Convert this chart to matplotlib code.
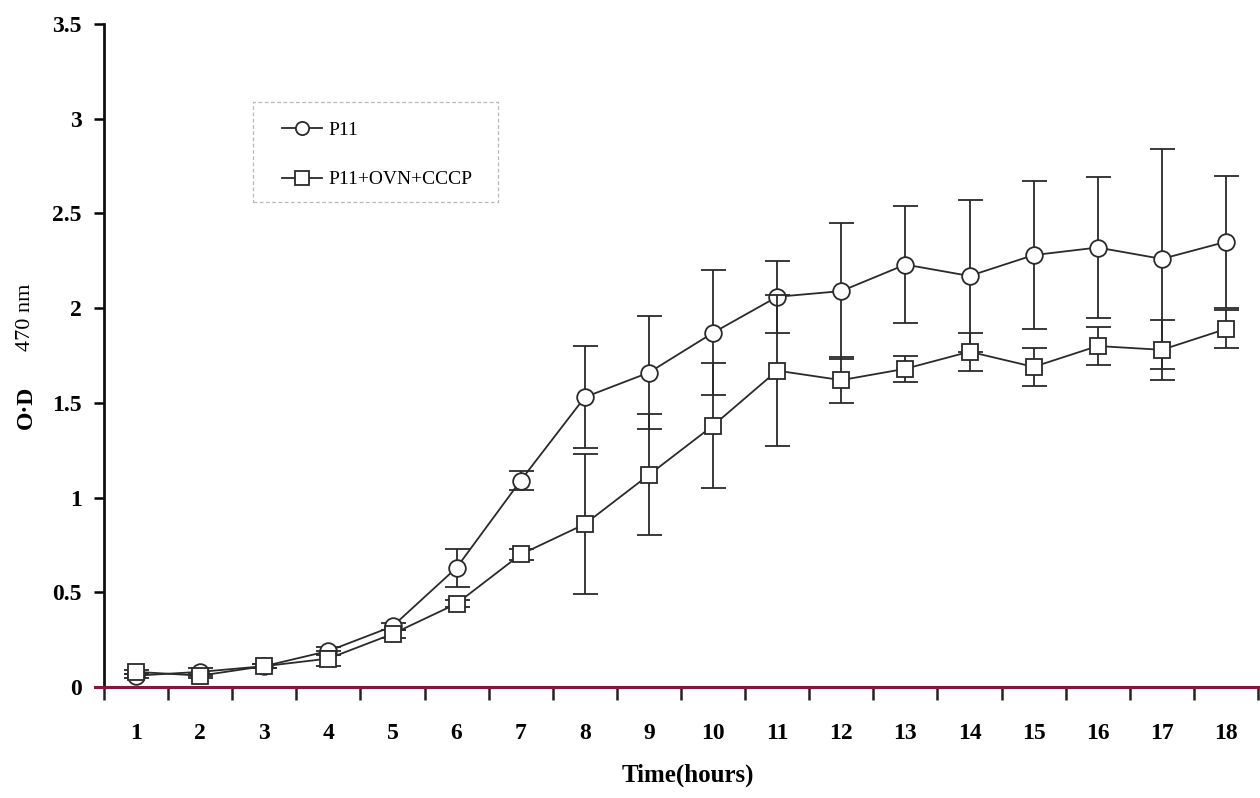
import matplotlib
matplotlib.use("Agg")
import matplotlib.pyplot as plt
from matplotlib.lines import Line2D
from matplotlib.patches import Rectangle
import numpy as np

# Growth of P11 with and without OVN + CCCP (optical density at 470 nm)
hours = [1, 2, 3, 4, 5, 6, 7, 8, 9, 10, 11, 12, 13, 14, 15, 16, 17, 18]

p11_mean = [0.06, 0.08, 0.11, 0.19, 0.32, 0.63, 1.09, 1.53, 1.66, 1.87, 2.06,
            2.09, 2.23, 2.17, 2.28, 2.32, 2.26, 2.35]
p11_err = [0.01, 0.02, 0.01, 0.02, 0.02, 0.10, 0.05, 0.27, 0.30, 0.33, 0.19,
           0.36, 0.31, 0.40, 0.39, 0.37, 0.58, 0.35]

ovn_mean = [0.08, 0.06, 0.11, 0.15, 0.28, 0.44, 0.70, 0.86, 1.12, 1.38, 1.67,
            1.62, 1.68, 1.77, 1.69, 1.80, 1.78, 1.89]
ovn_err = [0.01, 0.01, 0.01, 0.04, 0.02, 0.02, 0.03, 0.37, 0.32, 0.33, 0.40,
           0.12, 0.07, 0.10, 0.10, 0.10, 0.16, 0.10]

y_ticks = [0, 0.5, 1, 1.5, 2, 2.5, 3, 3.5]
y_tick_labels = ["0", "0.5", "1", "1.5", "2", "2.5", "3", "3.5"]

series_labels = ["P11", "P11+OVN+CCCP"]

plt.rcParams["font.family"] = ["Liberation Serif", "DejaVu Serif"]

W, H = 1260, 798
fig = plt.figure(figsize=(W / 100, H / 100), dpi=100)
left, right, bottom, top = 104, 1258, 687, 24
ax = fig.add_axes([left / W, 1 - bottom / H, (right - left) / W, (bottom - top) / H])


def fig_xy(px, py):
    """Pixel position (from the top-left corner) to figure fraction."""
    return px / W, 1 - py / H


ink = "#2a2a2a"
common = dict(color=ink, lw=1.3, ms=12, mew=1.3, mfc="white", mec=ink,
              ecolor=ink, elinewidth=1.3, capsize=9, capthick=1.3)

ax.errorbar(hours, p11_mean, yerr=p11_err, marker="o", zorder=3, **common)
ax.errorbar(hours, ovn_mean, yerr=ovn_err, marker="s", zorder=4, **common)

ax.set_xlim(0.5, 18.5)
ax.set_ylim(0, 3.5)

# ticks sit between categories, labels sit on categories
ax.set_xticks(np.arange(0.5, 19, 1))
ax.set_xticklabels([])
ax.set_xticks(hours, minor=True)
ax.set_xticklabels([str(h) for h in hours], minor=True)
ax.tick_params(axis="x", which="major", direction="out", length=9, width=1.8, color="#222222")
ax.tick_params(axis="x", which="minor", length=0, pad=26, labelsize=17)
ax.set_yticks(y_ticks)
ax.set_yticklabels(y_tick_labels)
ax.tick_params(axis="y", direction="out", length=7, width=1.8, pad=9, labelsize=17)
for lab in ax.get_xticklabels(minor=True) + ax.get_yticklabels():
    lab.set_fontweight("bold")

for s in ("top", "right"):
    ax.spines[s].set_visible(False)
ax.spines["left"].set_linewidth(2.0)
ax.spines["left"].set_color("#111111")
ax.spines["bottom"].set_visible(False)
ax.add_line(Line2D([-0.008, 1.0], [0, 0], transform=ax.transAxes, color="#8a1538",
                   lw=2.2, clip_on=False, zorder=5))

ax.set_xlabel("Time(hours)", fontsize=18, fontweight="bold")
ax.xaxis.set_label_coords((688 - left) / (right - left), (bottom - 764) / (bottom - top))

# y-axis title: "O·D" (bold) followed by the wavelength
fig.text(*fig_xy(26, 407), "O·D", rotation=90, ha="center", va="center",
         fontsize=17, fontweight="bold")
fig.text(*fig_xy(26, 317), "470 nm", rotation=90, ha="center", va="center",
         fontsize=16)

# legend entries, with a dashed box drawn around them
handles = [
    Line2D([], [], color=ink, lw=1.3, marker="o", ms=9.5, mfc="white", mec=ink, mew=1.3),
    Line2D([], [], color=ink, lw=1.3, marker="s", ms=9.5, mfc="white", mec=ink, mew=1.3),
]
leg = fig.legend(handles, series_labels, loc="upper left",
                 bbox_to_anchor=fig_xy(282, 121), bbox_transform=fig.transFigure,
                 fontsize=14, frameon=False, borderpad=0, borderaxespad=0,
                 labelspacing=1.66, handlelength=2.05, handletextpad=0.35)

bx0, by0 = fig_xy(253, 202)
bx1, by1 = fig_xy(498, 102)
fig.patches.append(Rectangle((bx0, by0), bx1 - bx0, by1 - by0, transform=fig.transFigure,
                             fill=False, edgecolor="#b8b8b8", lw=0.9,
                             linestyle=(0, (3, 2))))

fig.savefig("out.png", dpi=100, facecolor="white")
